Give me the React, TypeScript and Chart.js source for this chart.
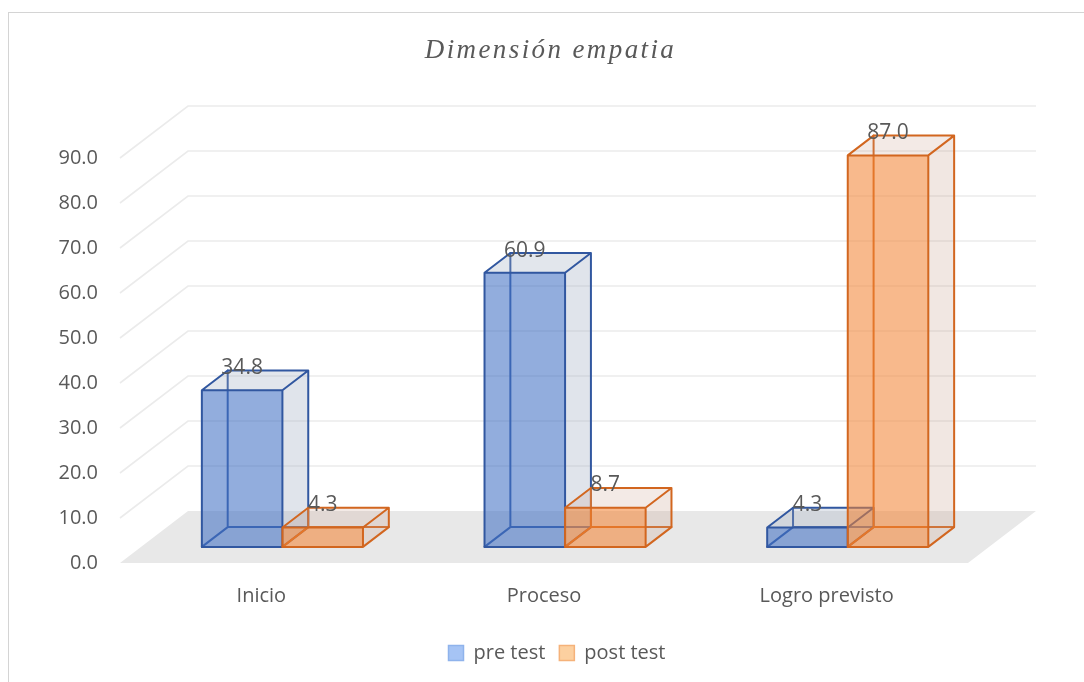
import React, { useEffect, useRef } from 'react';
import { Chart, registerables } from 'chart.js';

Chart.register(...registerables);

// ---- data ----
const chartTitle = 'Dimensión empatia';
const categories = ['Inicio', 'Proceso', 'Logro previsto'];
const seriesNames = ['pre test', 'post test'];
const preTest = [34.8, 60.9, 4.3];
const postTest = [4.3, 8.7, 87.0];
const yTickValues = [0, 10, 20, 30, 40, 50, 60, 70, 80, 90];

// ---- 3D look ----
const DX = 68; // depth vector x
const DY = 52; // depth vector y (upwards)
const F1 = 0.31; // bar front face depth fraction
const F2 = 0.69; // bar back face depth fraction
const TEXT = '#595959';

const barStyles = [
  {
    front: 'rgba(68,114,196,0.58)',
    side: 'rgba(160,172,192,0.32)',
    top: 'rgba(160,172,192,0.30)',
    edge: '#3157A0',
    legendFill: '#A6C4F5',
    legendEdge: '#8FB3EC',
  },
  {
    front: 'rgba(242,130,50,0.56)',
    side: 'rgba(200,160,140,0.25)',
    top: 'rgba(200,160,140,0.22)',
    edge: '#D2661F',
    legendFill: '#FCD0A0',
    legendEdge: '#F5B27A',
  },
];

const threeDPlugin = {
  id: 'threeD',
  beforeDatasetsDraw(chart: any) {
    const ctx: CanvasRenderingContext2D = chart.ctx;
    const { left, right } = chart.chartArea;
    const ys = chart.scales.y;
    const y0 = ys.getPixelForValue(0);
    ctx.save();
    // floor
    ctx.fillStyle = '#e8e8e8';
    ctx.beginPath();
    ctx.moveTo(left, y0);
    ctx.lineTo(left + DX, y0 - DY);
    ctx.lineTo(right + DX, y0 - DY);
    ctx.lineTo(right, y0);
    ctx.closePath();
    ctx.fill();
    // walls grid
    ctx.strokeStyle = '#ebebeb';
    ctx.lineWidth = 1.6;
    ys.ticks.forEach((t: any) => {
      if (t.value === 0) return;
      const y = ys.getPixelForValue(t.value);
      ctx.beginPath();
      ctx.moveTo(left, y);
      ctx.lineTo(left + DX, y - DY);
      ctx.lineTo(right + DX, y - DY);
      ctx.stroke();
    });

    // bars, left to right
    const labels: { text: string; x: number; y: number }[] = [];
    const n = chart.data.labels.length;
    for (let i = 0; i < n; i++) {
      chart.data.datasets.forEach((ds: any, d: number) => {
        const meta = chart.getDatasetMeta(d);
        const el = meta.data[i];
        if (!el) return;
        const { x, y, base, width } = el.getProps(['x', 'y', 'base', 'width'], true);
        const st = barStyles[d];
        const fx0 = x - width / 2 + F1 * DX;
        const fx1 = x + width / 2 + F1 * DX;
        const fyT = y - F1 * DY;
        const fyB = base - F1 * DY;
        const bx0 = x - width / 2 + F2 * DX;
        const bx1 = x + width / 2 + F2 * DX;
        const byT = y - F2 * DY;
        const byB = base - F2 * DY;

        ctx.lineJoin = 'round';
        ctx.lineCap = 'round';
        ctx.lineWidth = 2;
        ctx.strokeStyle = st.edge;
        // hidden edges
        ctx.beginPath();
        ctx.moveTo(bx0, byT);
        ctx.lineTo(bx0, byB);
        ctx.lineTo(bx1, byB);
        ctx.moveTo(fx0, fyB);
        ctx.lineTo(bx0, byB);
        ctx.stroke();
        // right face
        ctx.fillStyle = st.side;
        ctx.beginPath();
        ctx.moveTo(fx1, fyT);
        ctx.lineTo(bx1, byT);
        ctx.lineTo(bx1, byB);
        ctx.lineTo(fx1, fyB);
        ctx.closePath();
        ctx.fill();
        // top face
        ctx.fillStyle = st.top;
        ctx.beginPath();
        ctx.moveTo(fx0, fyT);
        ctx.lineTo(fx1, fyT);
        ctx.lineTo(bx1, byT);
        ctx.lineTo(bx0, byT);
        ctx.closePath();
        ctx.fill();
        // front face
        ctx.fillStyle = st.front;
        ctx.fillRect(fx0, fyT, fx1 - fx0, fyB - fyT);
        // visible edges
        ctx.beginPath();
        ctx.rect(fx0, fyT, fx1 - fx0, fyB - fyT);
        ctx.moveTo(fx0, fyT);
        ctx.lineTo(bx0, byT);
        ctx.lineTo(bx1, byT);
        ctx.lineTo(fx1, fyT);
        ctx.moveTo(bx1, byT);
        ctx.lineTo(bx1, byB);
        ctx.lineTo(fx1, fyB);
        ctx.stroke();

        labels.push({ text: Number(ds.data[i]).toFixed(1), x: x + F1 * DX, y: byT + 3.5 });
      });
    }
    // data labels
    ctx.fillStyle = TEXT;
    ctx.font = '21px "Open Sans"';
    ctx.textAlign = 'center';
    ctx.textBaseline = 'alphabetic';
    labels.forEach((l) => ctx.fillText(l.text, l.x, l.y));
    ctx.restore();
    return false;
  },
  afterDraw(chart: any) {
    const ctx: any = chart.ctx;
    ctx.save();
    ctx.font = 'italic 27px "Liberation Serif"';
    ctx.letterSpacing = '2.4px';
    ctx.fillStyle = TEXT;
    ctx.textAlign = 'center';
    ctx.textBaseline = 'alphabetic';
    ctx.fillText(chartTitle, chart.width / 2 + 4, 45);
    ctx.restore();
  },
};

export default function App() {
  const ref = useRef<HTMLCanvasElement>(null);
  useEffect(() => {
    Chart.defaults.font.family = '"Open Sans", sans-serif';
    const chart = new Chart(ref.current as HTMLCanvasElement, {
      type: 'bar',
      data: {
        labels: categories,
        datasets: [
          {
            label: seriesNames[0],
            data: preTest,
            backgroundColor: barStyles[0].legendFill,
            borderColor: barStyles[0].legendEdge,
            borderWidth: 1.5,
          },
          {
            label: seriesNames[1],
            data: postTest,
            backgroundColor: barStyles[1].legendFill,
            borderColor: barStyles[1].legendEdge,
            borderWidth: 1.5,
          },
        ],
      },
      options: {
        responsive: false,
        animation: false,
        events: [],
        datasets: { bar: { categoryPercentage: 0.57, barPercentage: 1 } },
        layout: { padding: { top: 145, left: 21, right: 0, bottom: 9 } },
        plugins: {
          title: { display: false },
          tooltip: { enabled: false },
          legend: {
            position: 'bottom',
            labels: {
              boxWidth: 15,
              boxHeight: 15,
              padding: 14,
              color: TEXT,
              font: { size: 20 },
            },
          },
        },
        scales: {
          x: {
            grid: { display: false, drawTicks: false },
            border: { display: false },
            ticks: { padding: 21, color: TEXT, font: { size: 20 } },
            afterFit: (s: any) => {
              s.height = 66;
            },
          },
          y: {
            min: 0,
            max: 90,
            grid: { display: false, drawTicks: false },
            border: { display: false },
            afterBuildTicks: (s: any) => {
              s.ticks = yTickValues.map((v) => ({ value: v }));
            },
            ticks: {
              padding: 22,
              color: TEXT,
              font: { size: 20 },
              callback: (v: any) => Number(v).toFixed(1),
            },
            afterFit: (s: any) => {
              s.width = 90;
            },
          },
          yRight: {
            position: 'right',
            display: true,
            grid: { display: false, drawTicks: false },
            border: { display: false },
            ticks: { display: false },
            afterFit: (s: any) => {
              s.width = 116;
            },
          },
        },
      } as any,
      plugins: [threeDPlugin as any],
    });
    return () => chart.destroy();
  }, []);

  return (
    <div
      style={{
        position: 'absolute',
        left: 8,
        top: 12,
        width: 1076,
        height: 670,
        borderLeft: '1px solid #d4d4d4',
        borderTop: '1px solid #d4d4d4',
        boxSizing: 'border-box',
        background: '#fff',
      }}
    >
      <canvas ref={ref} width={1075} height={669} style={{ display: 'block' }} />
    </div>
  );
}
